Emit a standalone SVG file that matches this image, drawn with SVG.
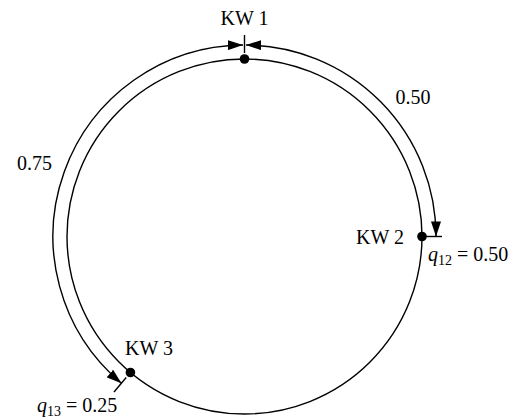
<svg xmlns="http://www.w3.org/2000/svg" width="518" height="420" viewBox="0 0 518 420">
<style>
.ln{fill:none;stroke:#000;stroke-width:1.4}
.dot{fill:#000}
.lbl{font-family:"Liberation Serif","Times New Roman",serif;font-size:20px;fill:#000}
.it{font-style:italic}
</style>
<defs>
<marker id="ah" markerUnits="userSpaceOnUse" markerWidth="15" markerHeight="10" refX="15" refY="5" orient="auto-start-reverse">
<path d="M0,0 L15,5 L0,10 z" fill="#000"/>
</marker>
</defs>
<rect width="518" height="420" fill="#fff"/>
<g id="ring">
<circle class="ln" cx="244.5" cy="236.5" r="177.5"/>
</g>
<g id="connectors">
<path id="arc-12" class="ln" d="M246,45 A191.5,191.5 0 0 1 436,236.5" marker-start="url(#ah)" marker-end="url(#ah)"/>
<path id="arc-13" class="ln" d="M243,45 A191.5,191.5 0 0 0 121.4,383.2" marker-start="url(#ah)" marker-end="url(#ah)"/>
<text class="lbl" x="413" y="104" text-anchor="middle">0.50</text>
<text class="lbl" x="34.5" y="170" text-anchor="middle">0.75</text>
</g>
<g id="kw1">
<line class="ln" x1="244.5" y1="35" x2="244.5" y2="53"/>
<circle class="dot" cx="244.5" cy="59" r="4.8"/>
<text class="lbl" x="244.5" y="25" text-anchor="middle">KW 1</text>
</g>
<g id="kw2">
<line class="ln" x1="425" y1="236.5" x2="442" y2="236.5"/>
<circle class="dot" cx="422" cy="236.5" r="4.8"/>
<text class="lbl" x="404" y="244" text-anchor="end">KW 2</text>
<text class="lbl" x="428" y="261"><tspan class="it">q</tspan><tspan font-size="14" dy="4">12</tspan><tspan dy="-4"> = 0.50</tspan></text>
</g>
<g id="kw3">
<line class="ln" x1="126.2" y1="377.5" x2="114" y2="392"/>
<circle class="dot" cx="130.4" cy="372.5" r="4.8"/>
<text class="lbl" x="125" y="355">KW 3</text>
<text class="lbl" x="37" y="412"><tspan class="it">q</tspan><tspan font-size="14" dy="4">13</tspan><tspan dy="-4"> = 0.25</tspan></text>
</g>
</svg>
